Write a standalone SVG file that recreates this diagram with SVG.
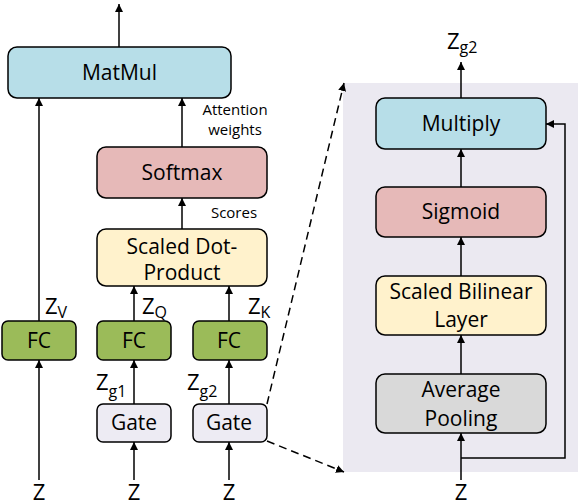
<svg xmlns="http://www.w3.org/2000/svg" width="580" height="504" viewBox="0 0 580 504">
<style>
.box{stroke:#000;stroke-width:1.5}
.t{font-family:"Open Sans",sans-serif;font-size:21px;fill:#000;text-anchor:middle}
.s{font-family:"Open Sans",sans-serif;font-size:15px;fill:#000;text-anchor:middle}
.z{font-family:"Open Sans",sans-serif;font-size:22px;fill:#000}
.sub{font-size:16px}
.ln{stroke:#000;stroke-width:1.5;fill:none}
.dash{stroke:#000;stroke-width:1.5;fill:none;stroke-dasharray:8,5}
</style>
<defs>
<marker id="ahb" viewBox="0 0 10 10" refX="10" refY="5" markerWidth="8" markerHeight="8" markerUnits="userSpaceOnUse" orient="auto">
<path d="M0,0 L10,5 L0,10 z" fill="#000"/>
</marker>
</defs>
<rect x="343" y="83" width="235" height="389" fill="#EBE9F1"/>
<g id="connectors">
<line class="ln" x1="119" y1="47" x2="119" y2="4" marker-end="url(#ahb)"/>
<line class="ln" x1="39" y1="321" x2="39" y2="98" marker-end="url(#ahb)"/>
<line class="ln" x1="182" y1="147" x2="182" y2="98" marker-end="url(#ahb)"/>
<line class="ln" x1="182" y1="229" x2="182" y2="198" marker-end="url(#ahb)"/>
<line class="ln" x1="134" y1="321" x2="134" y2="286" marker-end="url(#ahb)"/>
<line class="ln" x1="229" y1="321" x2="229" y2="286" marker-end="url(#ahb)"/>
<line class="ln" x1="134" y1="404" x2="134" y2="360" marker-end="url(#ahb)"/>
<line class="ln" x1="229" y1="404" x2="229" y2="360" marker-end="url(#ahb)"/>
<line class="ln" x1="39" y1="480" x2="39" y2="360" marker-end="url(#ahb)"/>
<line class="ln" x1="134" y1="480" x2="134" y2="442" marker-end="url(#ahb)"/>
<line class="ln" x1="229" y1="480" x2="229" y2="442" marker-end="url(#ahb)"/>
<line class="dash" x1="267" y1="404" x2="344" y2="83" marker-end="url(#ahb)"/>
<line class="dash" x1="267" y1="441" x2="344" y2="472" marker-end="url(#ahb)"/>
<line class="ln" x1="461" y1="98" x2="461" y2="62" marker-end="url(#ahb)"/>
<line class="ln" x1="461" y1="187" x2="461" y2="149" marker-end="url(#ahb)"/>
<line class="ln" x1="461" y1="276" x2="461" y2="237" marker-end="url(#ahb)"/>
<line class="ln" x1="461" y1="374" x2="461" y2="335" marker-end="url(#ahb)"/>
<line class="ln" x1="461" y1="480" x2="461" y2="433" marker-end="url(#ahb)"/>
<polyline class="ln" points="461,458 565,458 565,124 546,124" marker-end="url(#ahb)"/>
</g>
<g id="matmul"><rect class="box" x="8" y="47" width="223" height="51" rx="9" fill="#B7DEE8"/><text class="t" x="119.5" y="80">MatMul</text></g>
<g id="softmax"><rect class="box" x="97" y="147" width="170" height="51" rx="9" fill="#E6B9B8"/><text class="t" x="182" y="180">Softmax</text></g>
<g id="scaled-dot"><rect class="box" x="97" y="229" width="170" height="57" rx="9" fill="#FFF2CC"/><text class="t" x="182" y="254">Scaled Dot-</text><text class="t" x="182" y="280">Product</text></g>
<g id="fc-v"><rect class="box" x="2" y="321" width="74" height="39" rx="6" fill="#9BBB59"/><text class="t" x="39" y="348">FC</text></g>
<g id="fc-q"><rect class="box" x="97" y="321" width="74" height="39" rx="6" fill="#9BBB59"/><text class="t" x="134" y="348">FC</text></g>
<g id="fc-k"><rect class="box" x="193" y="321" width="74" height="39" rx="6" fill="#9BBB59"/><text class="t" x="229" y="348">FC</text></g>
<g id="gate-1"><rect class="box" x="97" y="404" width="74" height="38" rx="6" fill="#EDEBF3"/><text class="t" x="134" y="430">Gate</text></g>
<g id="gate-2"><rect class="box" x="193" y="404" width="74" height="38" rx="6" fill="#EDEBF3"/><text class="t" x="229" y="430">Gate</text></g>
<g id="multiply"><rect class="box" x="376" y="98" width="170" height="51" rx="9" fill="#B7DEE8"/><text class="t" x="461" y="131">Multiply</text></g>
<g id="sigmoid"><rect class="box" x="376" y="187" width="170" height="50" rx="9" fill="#E6B9B8"/><text class="t" x="461" y="219">Sigmoid</text></g>
<g id="bilinear"><rect class="box" x="376" y="276" width="170" height="59" rx="9" fill="#FFF2CC"/><text class="t" x="461" y="299">Scaled Bilinear</text><text class="t" x="461" y="327">Layer</text></g>
<g id="avgpool"><rect class="box" x="376" y="374" width="170" height="59" rx="9" fill="#D9D9D9"/><text class="t" x="461" y="397">Average</text><text class="t" x="461" y="426">Pooling</text></g>
<g id="labels">
<text class="s" x="235" y="115">Attention</text>
<text class="s" x="235" y="135">weights</text>
<text class="s" x="234" y="218">Scores</text>
<text class="z" x="45" y="314">Z<tspan class="sub" dy="4">V</tspan></text>
<text class="z" x="142" y="314">Z<tspan class="sub" dy="4">Q</tspan></text>
<text class="z" x="248" y="314">Z<tspan class="sub" dy="4">K</tspan></text>
<text class="z" x="96" y="390">Z<tspan class="sub" dy="7">g1</tspan></text>
<text class="z" x="187" y="390">Z<tspan class="sub" dy="7">g2</tspan></text>
<text class="z" x="447" y="49">Z<tspan class="sub" dy="4">g2</tspan></text>
<text class="z" x="39" y="500" text-anchor="middle">Z</text>
<text class="z" x="134" y="500" text-anchor="middle">Z</text>
<text class="z" x="229" y="500" text-anchor="middle">Z</text>
<text class="z" x="461" y="500" text-anchor="middle">Z</text>
</g>
</svg>
